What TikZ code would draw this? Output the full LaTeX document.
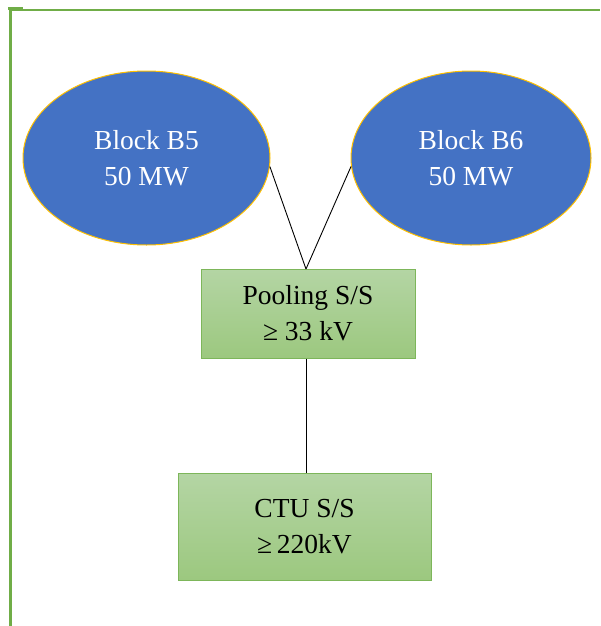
\documentclass[tikz,border=0pt]{standalone}
\usepackage{fontspec}
\setmainfont{Liberation Serif}
\usetikzlibrary{shapes.geometric}
\definecolor{frameg}{HTML}{70AD47}
\definecolor{blockblue}{HTML}{4472C4}
\definecolor{blockgold}{HTML}{FFC000}
\definecolor{boxtop}{HTML}{B4D5A4}
\definecolor{boxbot}{HTML}{9CC87F}
\definecolor{boxline}{HTML}{7DB65A}
\tikzset{
  blockell/.style={ellipse, draw=blockgold, line width=1pt, fill=blockblue, text=white,
    align=center, inner sep=0pt, font=\fontsize{27.5}{36}\selectfont},
  subbox/.style={rectangle, draw=boxline, line width=1pt, top color=boxtop, bottom color=boxbot,
    align=center, inner sep=0pt, font=\fontsize{27.5}{36}\selectfont},
  link/.style={draw=black, line width=0.9pt},
  framel/.style={draw=frameg}
}
\begin{document}
\begin{tikzpicture}[x=1pt,y=-1pt]
\useasboundingbox (0,0) rectangle (600,626);
% frame
\draw[framel, line width=2.2pt] (10.5,8) -- (10.5,626);
\draw[framel, line width=1.5pt] (10,10) -- (600,10);
\fill[frameg] (8,7.5) rectangle (23,10.5);
% nodes
\node[blockell, minimum width=247pt, minimum height=174pt] (b5) at (146.5,158) {Block B5\\50 MW};
\node[blockell, minimum width=240pt, minimum height=174pt] (b6) at (471,158) {Block B6\\50 MW};
\node[subbox, minimum width=214pt, minimum height=89pt] (pool) at (308,313.5) {Pooling S/S\\≥ 33 kV};
\node[subbox, minimum width=253pt, minimum height=107pt] (ctu) at (304.5,526.5) {CTU S/S\\≥\,220kV};
% connectors
\coordinate (pt) at (306,269);
\draw[link] (b5.-4) -- (pt);
\draw[link] (b6.184) -- (pt);
\draw[link] (306,358.5) -- (306,473);
\end{tikzpicture}
\end{document}
